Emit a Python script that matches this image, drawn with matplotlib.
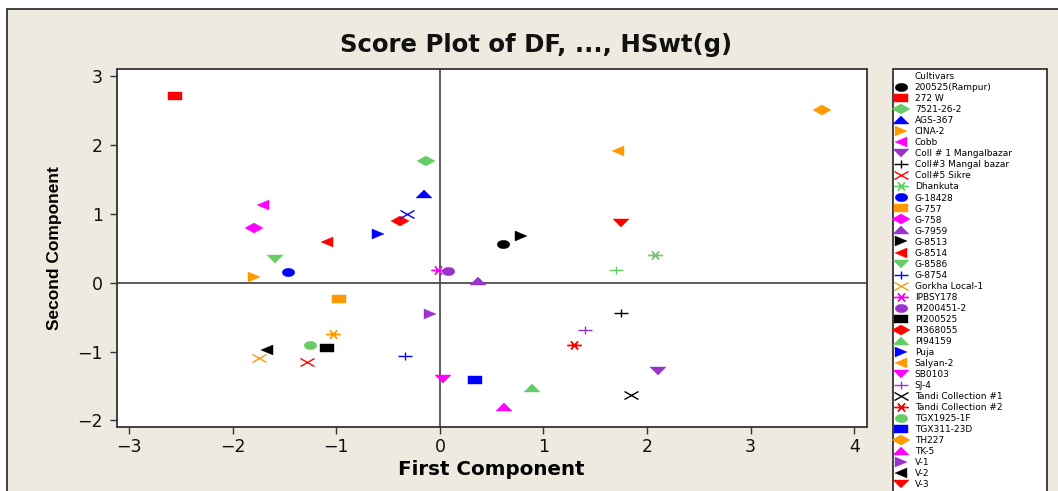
import matplotlib
matplotlib.use('Agg')
import matplotlib.pyplot as plt
from matplotlib.markers import MarkerStyle
from matplotlib.transforms import Affine2D
from matplotlib.patches import Rectangle
from matplotlib import font_manager

# ---------------- data ----------------
cultivars = ["200525(Rampur)", "272 W", "7521-26-2", "AGS-367", "CINA-2", "Cobb",
             "Coll # 1 Mangalbazar", "Coll#3 Mangal bazar", "Coll#5 Sikre", "Dhankuta",
             "G-18428", "G-757", "G-758", "G-7959", "G-8513", "G-8514", "G-8586",
             "G-8754", "Gorkha Local-1", "IPBSY178", "PI200451-2", "PI200525",
             "PI368055", "PI94159", "Puja", "Salyan-2", "SB0103", "SJ-4",
             "Tandi Collection #1", "Tandi Collection #2", "TGX1925-1F", "TGX311-23D",
             "TH227", "TK-5", "V-1", "V-2", "V-3",
             None, None, None]   # last three entries are cut off the legend in the source
pc1 = [0.61, -2.56, -0.13, -0.15, -1.79, -1.71, 2.11, 1.75, -1.28, 2.08,
       -1.47, -0.97, -1.79, 0.37, 0.78, -1.09, -1.59, -0.34, -1.75, -0.02,
       0.08, -1.09, -0.39, 0.89, -0.60, 1.72, 0.03, 1.40, 1.84, 1.29,
       -1.25, 0.34, 3.69, 0.62, -0.10, -1.67, 1.75, 1.70, -0.32, -1.03]
pc2 = [0.56, 2.71, 1.76, 1.28, 0.08, 1.12, -1.28, -0.44, -1.15, 0.40,
       0.16, -0.24, 0.79, 0.03, 0.67, 0.59, 0.34, -1.06, -1.10, 0.18,
       0.17, -0.95, 0.90, -1.53, 0.70, 1.91, -1.40, -0.68, -1.63, -0.90,
       -0.91, -1.41, 2.51, -1.81, -0.45, -0.98, 0.86, 0.18, 1.00, -0.75]
x_ticks = [-3, -2, -1, 0, 1, 2, 3, 4]
y_ticks = [-2, -1, 0, 1, 2, 3]

# ---------------- style ----------------
colors = ['#000000', '#FF0000', '#66CC66', '#0000FF', '#FF9900', '#FF00FF', '#9933CC']
shapes = ['o', 's', 'D', '^', '>', '<', 'v', '+', 'x', (6, 2, 90)]
# (markersize, horizontal stretch)
shape_size = {'o': (6.0, 1.5), 's': (6.3, 1.5), 'D': (5.6, 1.55), '^': (6.0, 2.0),
              'v': (6.0, 2.0), '>': (7.9, 1.15), '<': (7.9, 1.15), '+': (6.0, 1.6),
              'x': (6.0, 1.6), (6, 2, 90): (6.7, 1.5)}
line_shapes = ['+', 'x', (6, 2, 90)]

# narrow bold font for the y label if one is installed
installed = {f.name for f in font_manager.fontManager.ttflist}
if 'Liberation Sans Narrow' in installed:
    ylab_family, ylab_size = 'Liberation Sans Narrow', 14.5
else:
    ylab_family, ylab_size = 'Liberation Sans', 12.5

W, H = 1058, 491
fig = plt.figure(figsize=(W / 100, H / 100), dpi=100, facecolor='white')
bg = Rectangle((7 / W, -0.1), 1.2, (H - 9) / H + 0.1, transform=fig.transFigure,
               facecolor='#EEEAE0', edgecolor='#222222', lw=1.2, zorder=-5)
fig.patches.append(bg)

ax = fig.add_axes([116.7 / W, (H - 426.7) / H, 750 / W, 357.7 / H])
ax.set_zorder(1)
ax.set_facecolor('white')

ax.axhline(0, color='#404040', lw=1.2, zorder=1)
ax.axvline(0, color='#404040', lw=1.2, zorder=1)

for i, (name, x, y) in enumerate(zip(cultivars, pc1, pc2)):
    c = colors[i % len(colors)]
    m = shapes[i % len(shapes)]
    ms, sx = shape_size[m]
    mk = MarkerStyle(m, transform=Affine2D().scale(sx, 1.0))
    label = name if name is not None else '_nolegend_'
    if m in line_shapes:
        ax.plot([x], [y], linestyle='none', marker=mk, markersize=ms,
                markeredgecolor=c, markeredgewidth=1.0, label=label, zorder=3)
    else:
        ax.plot([x], [y], linestyle='none', marker=mk, markersize=ms,
                markerfacecolor=c, markeredgecolor=c, markeredgewidth=0.3,
                label=label, zorder=3)

ax.set_xlim(-3.12, 4.12)
ax.set_ylim(-2.09, 3.10)
ax.set_xticks(x_ticks)
ax.set_yticks(y_ticks)
ax.tick_params(direction='out', length=5, width=1.0, color='#333333',
               labelsize=12.5, labelcolor='#111111')
ax.tick_params(axis='y', pad=5)
ax.tick_params(axis='x', pad=3)
for s in ax.spines.values():
    s.set_color('#333333')
    s.set_linewidth(1.3)

ax.set_xlabel('First Component', fontsize=14.3, fontweight='bold', labelpad=3)
ax.set_ylabel('Second Component', fontsize=ylab_size, fontweight='bold',
              family=ylab_family, labelpad=11)

fig.text(536 / W, (H - 52.3) / H, 'Score Plot of DF, ..., HSwt(g)', ha='center',
         va='baseline', fontsize=17.6, fontweight='bold', color='#111111')

leg = ax.legend(loc='upper left', bbox_to_anchor=(892.7 / W, 0, (1046.7 - 892.7) / W, (H - 69) / H),
                bbox_transform=fig.transFigure, mode='expand', borderaxespad=0,
                prop={'size': 6.5}, title='Cultivars', title_fontsize=6.5, alignment='left',
                labelspacing=0.225, handlelength=1.1, handletextpad=1.0, borderpad=0.35,
                fancybox=False, framealpha=1, edgecolor='#222222', facecolor='white')
leg.get_frame().set_linewidth(1.2)
t = leg.get_title()
t.set_transform(t.get_transform() + Affine2D().translate(19, 0))

fig.savefig('out.png', dpi=100, facecolor=fig.get_facecolor())
